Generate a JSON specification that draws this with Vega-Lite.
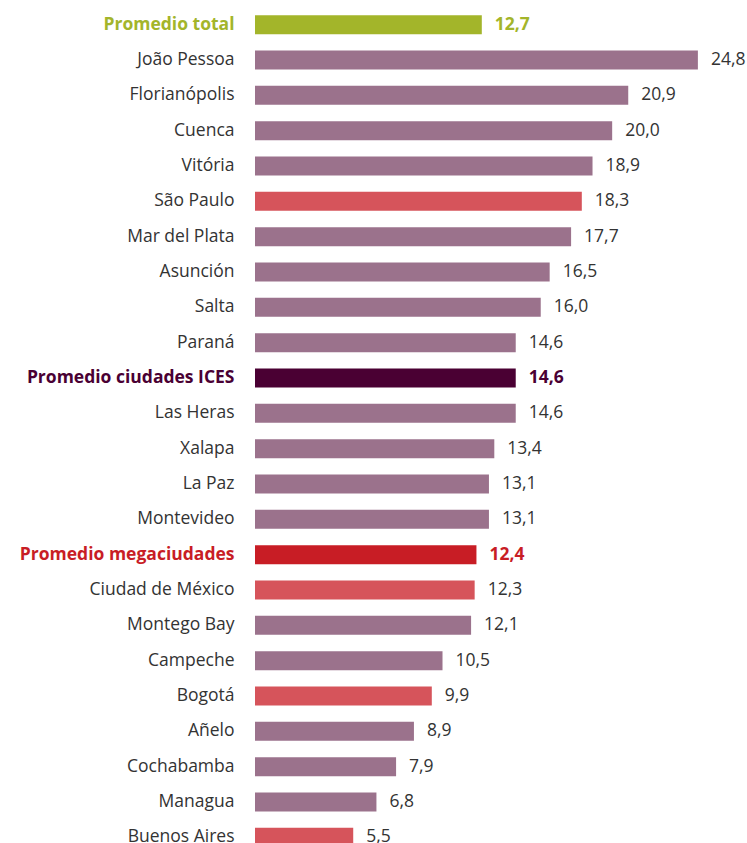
{
  "$schema": "https://vega.github.io/schema/vega-lite/v6.json",
  "autosize": {"type": "none"},
  "padding": {"left": 255, "top": 7, "right": 0, "bottom": 0},
  "width": 492,
  "height": 848,
  "config": {"view": {"stroke": null}, "font": "Open Sans"},
  "data": {"values": [
    {"city": "Promedio total", "value": 12.7, "type": "total"},
    {"city": "João Pessoa", "value": 24.8, "type": "ices"},
    {"city": "Florianópolis", "value": 20.9, "type": "ices"},
    {"city": "Cuenca", "value": 20.0, "type": "ices"},
    {"city": "Vitória", "value": 18.9, "type": "ices"},
    {"city": "São Paulo", "value": 18.3, "type": "mega"},
    {"city": "Mar del Plata", "value": 17.7, "type": "ices"},
    {"city": "Asunción", "value": 16.5, "type": "ices"},
    {"city": "Salta", "value": 16.0, "type": "ices"},
    {"city": "Paraná", "value": 14.6, "type": "ices"},
    {"city": "Promedio ciudades ICES", "value": 14.6, "type": "icesavg"},
    {"city": "Las Heras", "value": 14.6, "type": "ices"},
    {"city": "Xalapa", "value": 13.4, "type": "ices"},
    {"city": "La Paz", "value": 13.1, "type": "ices"},
    {"city": "Montevideo", "value": 13.1, "type": "ices"},
    {"city": "Promedio megaciudades", "value": 12.4, "type": "megaavg"},
    {"city": "Ciudad de México", "value": 12.3, "type": "mega"},
    {"city": "Montego Bay", "value": 12.1, "type": "ices"},
    {"city": "Campeche", "value": 10.5, "type": "ices"},
    {"city": "Bogotá", "value": 9.9, "type": "mega"},
    {"city": "Añelo", "value": 8.9, "type": "ices"},
    {"city": "Cochabamba", "value": 7.9, "type": "ices"},
    {"city": "Managua", "value": 6.8, "type": "ices"},
    {"city": "Buenos Aires", "value": 5.5, "type": "mega"}
  ]},
  "transform": [
    {"calculate": "replace(format(datum.value, '.1f'), '.', ',')", "as": "label"}
  ],
  "encoding": {
    "y": {
      "field": "city", "type": "nominal", "sort": null,
      "scale": {"paddingInner": 0.46, "paddingOuter": 0.23},
      "axis": {
        "title": null, "domain": false, "ticks": false, "labelPadding": 21,
        "labelFontSize": 17.5, "labelFont": "Open Sans", "labelLimit": 400,
        "labelColor": {"expr": "datum.value === 'Promedio total' ? '#a3b52a' : datum.value === 'Promedio ciudades ICES' ? '#4a0033' : datum.value === 'Promedio megaciudades' ? '#c81d25' : '#333333'"},
        "labelFontWeight": {"expr": "indexof(['Promedio total','Promedio ciudades ICES','Promedio megaciudades'], datum.value) >= 0 ? 'bold' : 'normal'"}
      }
    },
    "x": {
      "field": "value", "type": "quantitative",
      "scale": {"domain": [0, 27.55], "nice": false},
      "axis": null
    },
    "color": {
      "field": "type", "type": "nominal", "legend": null,
      "scale": {
        "domain": ["total", "ices", "mega", "icesavg", "megaavg"],
        "range": ["#a3b52a", "#9b728c", "#d6545b", "#4a0033", "#c81d25"]
      }
    }
  },
  "layer": [
    {"mark": {"type": "bar"}},
    {
      "transform": [{"filter": "indexof(['ices','mega'], datum.type) >= 0"}],
      "mark": {"type": "text", "align": "left", "baseline": "middle", "dx": 13, "fontSize": 17.5, "font": "Open Sans", "color": "#333333"},
      "encoding": {
        "text": {"field": "label"},
        "color": {"value": "#333333"}
      }
    },
    {
      "transform": [{"filter": "indexof(['total','icesavg','megaavg'], datum.type) >= 0"}],
      "mark": {"type": "text", "align": "left", "baseline": "middle", "dx": 13, "fontSize": 17.5, "font": "Open Sans", "fontWeight": "bold"},
      "encoding": {
        "text": {"field": "label"}
      }
    }
  ]
}
